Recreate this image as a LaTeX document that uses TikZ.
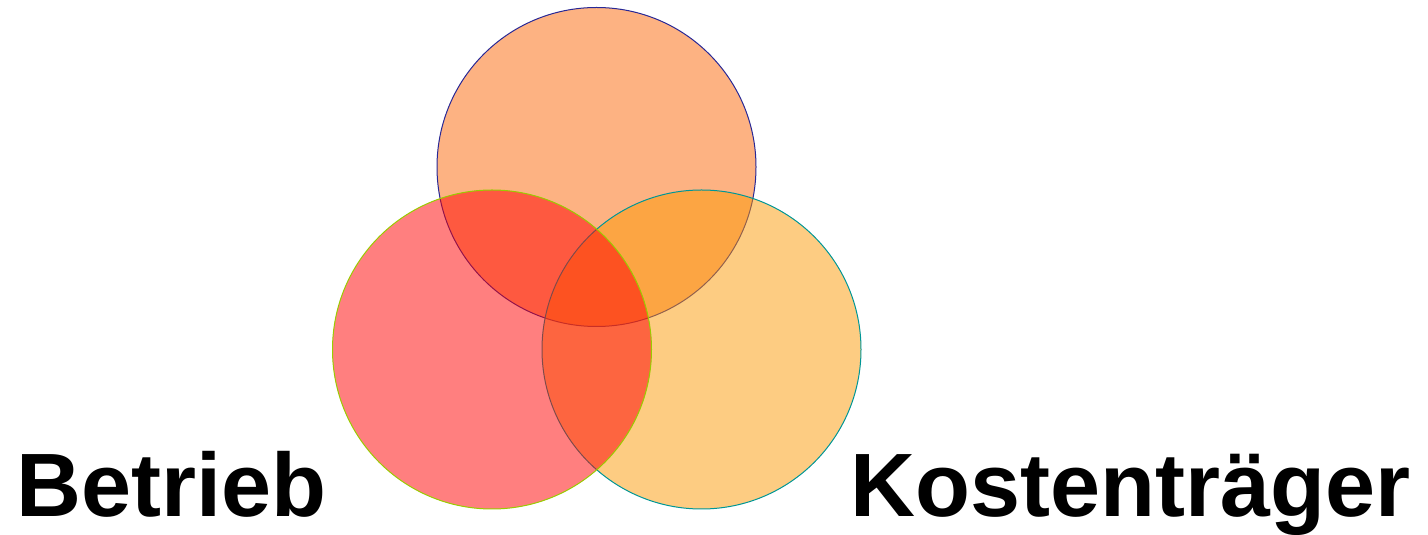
\documentclass[tikz,border=0pt]{standalone}
\usepackage{fontspec}
\setmainfont{Liberation Sans}
\definecolor{topfill}{RGB}{252,102,5}
\definecolor{rightfill}{RGB}{251,153,5}
\definecolor{leftfill}{RGB}{255,0,0}
\definecolor{topline}{RGB}{40,40,150}
\definecolor{leftline}{RGB}{153,204,0}
\definecolor{rightline}{RGB}{0,150,150}
\tikzset{
  venn/.style={circle, minimum size=319pt, inner sep=0pt, fill opacity=0.5, line width=1pt},
  biglabel/.style={anchor=base west, inner sep=0pt, font=\fontsize{90}{100}\selectfont\bfseries}
}
\begin{document}
\begin{tikzpicture}[x=1pt,y=1pt]
\useasboundingbox (0,0) rectangle (1428,535);
\node[venn, fill=topfill, draw=topline] (top) at (596.5,368) {};
\node[venn, fill=rightfill, draw=rightline] (right) at (701.5,185.5) {};
\node[venn, fill=leftfill, draw=leftline] (left) at (492,185.5) {};
\node[biglabel] (betrieb) at (16.5,18) {Betrieb};
\node[biglabel] (kosten) at (850,18) {Kostenträger};
\end{tikzpicture}
\end{document}
